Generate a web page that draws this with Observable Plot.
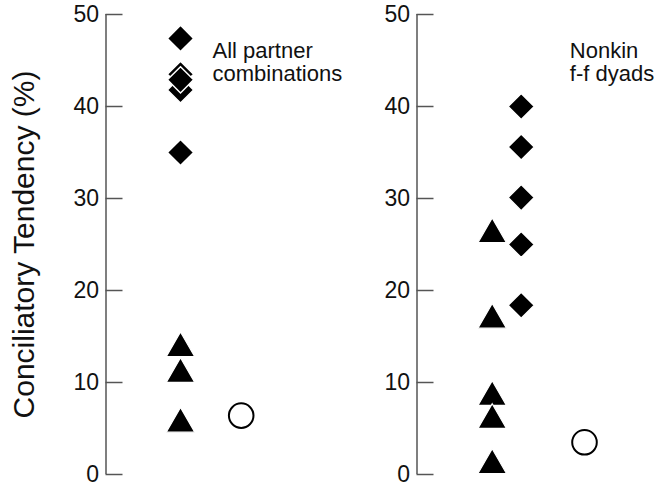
<!DOCTYPE html>
<html>
<head>
<meta charset="utf-8">
<script src="https://cdn.jsdelivr.net/npm/d3@7"></script>
<script src="https://cdn.jsdelivr.net/npm/@observablehq/plot@0.6"></script>
<style>
  body { margin: 0; background: #fff; }
  #chart { display: flex; width: 657px; height: 488px; }
  #chart svg { display: block; overflow: visible; background: none; }
</style>
</head>
<body>
<div id="chart"></div>
<script>
// ---- data ----
const yTicks = [0, 10, 20, 30, 40, 50];
const yTitle = "Conciliatory Tendency (%)";

// Panel 1: all partner combinations
const allLabel = "All partner\ncombinations";
const allDiamonds = [47.4, 43.5, 41.8, 42.9, 35.0];
const allTriangles = [13.7, 10.9, 5.5];
const allCircle = [6.4];

// Panel 2: nonkin female-female dyads
const nonkinLabel = "Nonkin\nf-f dyads";
const nonkinDiamonds = [40.0, 35.6, 30.1, 25.0, 18.4];
const nonkinTriangles = [26.1, 16.8, 8.4, 5.9, 1.0];
const nonkinCircle = [3.5];

// ---- layout (column offsets from the axis, in x-scale units = px) ----
const leftColumns = {axis: 0, pairs: 74.5, control: 135.2};
const rightColumns = {axis: 0, triangles: 75.2, diamonds: 104.2, control: 167.5};

// ---- styling ----
const font = "'Liberation Sans', Arial, Helvetica, sans-serif";
const axisColor = "#555";

function yAxis(cols) {
  return [
    Plot.ruleX([cols.axis], {x: d => d, y1: yTicks[0], y2: yTicks[yTicks.length - 1],
      stroke: axisColor, strokeWidth: 1.5}),
    Plot.axisY({
      ticks: yTicks,
      tickSize: -17,
      tickPadding: 24,
      stroke: axisColor,
      strokeWidth: 1.5,
      fill: "#111",
      fontSize: 23,
      tickFormat: d => String(d),
      label: null
    })
  ];
}

function diamonds(data, xpos) {
  return Plot.dot(data, {x: () => xpos, y: d => d, symbol: "diamond2", r: 11.8,
    fill: "#000", stroke: "#fff", strokeWidth: 1.5});
}
function triangles(data, xpos) {
  return Plot.dot(data, {x: () => xpos, y: d => d, symbol: "triangle", r: 10.6,
    fill: "#000", stroke: "#fff", strokeWidth: 1.2});
}
function circles(data, xpos) {
  return Plot.dot(data, {x: () => xpos, y: d => d, symbol: "circle", r: 12.3,
    fill: "#fff", stroke: "#000", strokeWidth: 2});
}
function panelLabel(text, dx) {
  return Plot.text([text], {text: d => d, frameAnchor: "top-left", textAnchor: "start",
    lineAnchor: "top", dx, dy: 27, fontSize: 22, lineHeight: 1.06, fill: "#111"});
}

const left = Plot.plot({
  width: 311, height: 488,
  marginLeft: 105.5, marginRight: 0, marginTop: 14, marginBottom: 14,
  style: {fontFamily: font, overflow: "visible"},
  y: {domain: [0, 50]},
  x: {type: "linear", domain: [0, 205.5], range: [105.5, 311], axis: null},
  marks: [
    ...yAxis(leftColumns),
    Plot.text([yTitle], {text: d => d, frameAnchor: "left", rotate: -90, textAnchor: "middle",
      lineAnchor: "bottom", dx: -72.5, fontSize: 30, fill: "#111"}),
    triangles(allTriangles, leftColumns.pairs),
    diamonds(allDiamonds, leftColumns.pairs),
    circles(allCircle, leftColumns.control),
    panelLabel(allLabel, 106.5)
  ]
});

const right = Plot.plot({
  width: 346, height: 488,
  marginLeft: 105.5, marginRight: 0, marginTop: 14, marginBottom: 14,
  style: {fontFamily: font, overflow: "visible"},
  y: {domain: [0, 50]},
  x: {type: "linear", domain: [0, 240.5], range: [105.5, 346], axis: null},
  marks: [
    ...yAxis(rightColumns),
    triangles(nonkinTriangles, rightColumns.triangles),
    diamonds(nonkinDiamonds, rightColumns.diamonds),
    circles(nonkinCircle, rightColumns.control),
    panelLabel(nonkinLabel, 152.8)
  ]
});

document.getElementById("chart").append(left, right);
</script>
</body>
</html>
